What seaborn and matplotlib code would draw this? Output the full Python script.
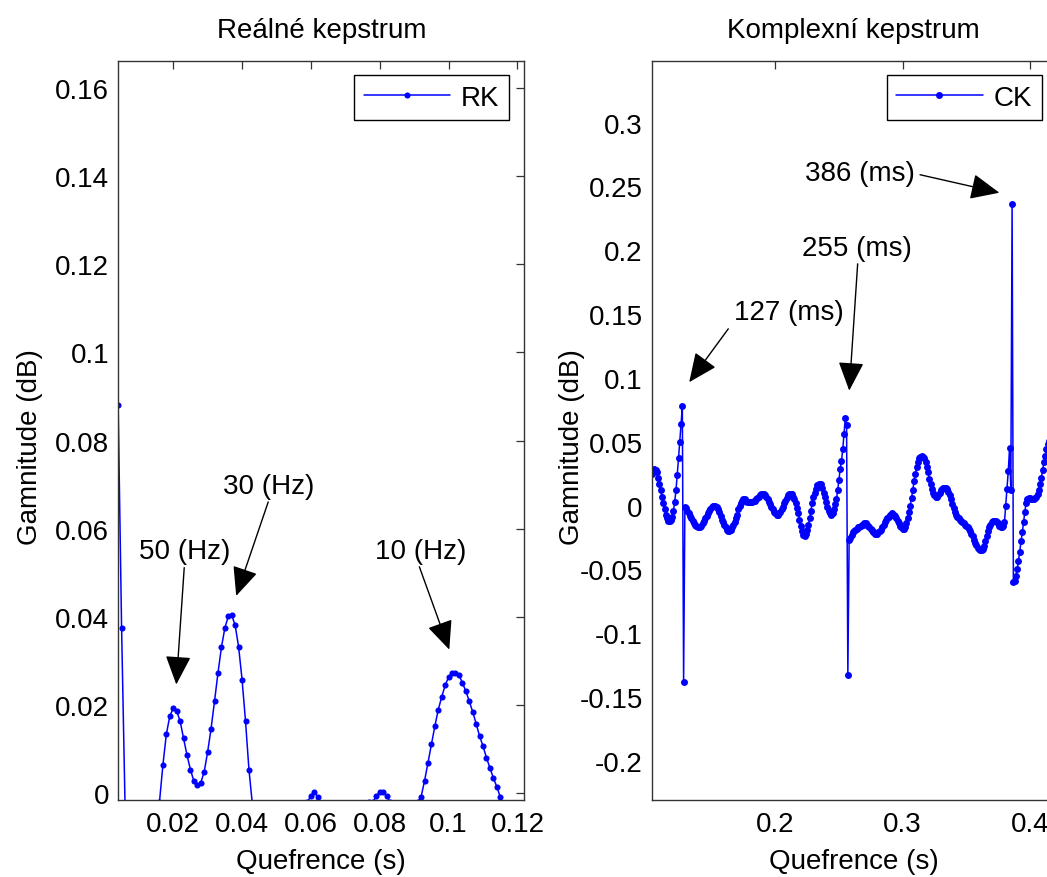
import numpy as np
import pandas as pd
import matplotlib
matplotlib.use("Agg")
import matplotlib.pyplot as plt
from matplotlib.ticker import FuncFormatter
import seaborn as sns

# ---------------- data ----------------
# Real cepstrum (RK): one sample per millisecond starting at 4 ms
rk_start_ms = 4
rk_values = [
    0.088, 0.0376, -0.0025, -0.012, -0.019, -0.023, -0.024, -0.022, -0.019, -0.014,
    -0.009, -0.005, -0.002, 0.0064, 0.0134, 0.0175, 0.0193, 0.0187, 0.0164, 0.0125,
    0.0087, 0.0054, 0.0028, 0.0018, 0.0024, 0.0049, 0.0094, 0.0147, 0.0209, 0.0273,
    0.0331, 0.0375, 0.0402, 0.0404, 0.0381, 0.0332, 0.0258, 0.0164, 0.0054, -0.0025,
    -0.008, -0.012, -0.015, -0.016, -0.016, -0.014, -0.012, -0.009, -0.007, -0.005,
    -0.004, -0.003, -0.003, -0.003, -0.003, -0.002, -0.0005, 0.0004, -0.0008, -0.003,
    -0.005, -0.007, -0.008, -0.009, -0.009, -0.009, -0.008, -0.007, -0.006, -0.005,
    -0.004, -0.003, -0.003, -0.002, -0.002, -0.0006, 0.0004, 0.0004, -0.0006, -0.002,
    -0.003, -0.004, -0.005, -0.005, -0.005, -0.004, -0.003, -0.002, -0.0008, 0.0028,
    0.0069, 0.0111, 0.0152, 0.0190, 0.0219, 0.0245, 0.0264, 0.0272, 0.0273, 0.0268,
    0.0251, 0.0232, 0.0209, 0.0185, 0.0158, 0.0130, 0.0107, 0.0081, 0.0058, 0.0035,
    0.0015, -0.0008, -0.003, -0.005, -0.007, -0.008, -0.009, -0.009, -0.009, -0.008,
    -0.007, -0.006,
]

# Complex cepstrum (CK): one sample per millisecond starting at 103 ms
ck_start_ms = 103
ck_values = [
    0.025, 0.028, 0.029, 0.028, 0.026, 0.022, 0.017, 0.012, 0.007, 0.002,
    -0.003, -0.007, -0.010, -0.012, -0.012, -0.011, -0.009, -0.004, 0.003, 0.012,
    0.024, 0.037, 0.050, 0.064, 0.078, -0.138, -0.001, -0.002, -0.004, -0.006,
    -0.008, -0.010, -0.012, -0.014, -0.015, -0.016, -0.017, -0.017, -0.017, -0.016,
    -0.014, -0.012, -0.010, -0.008, -0.006, -0.004, -0.003, -0.001, 0.000, 0.000,
    0.000, -0.001, -0.003, -0.005, -0.008, -0.011, -0.013, -0.015, -0.017, -0.019,
    -0.020, -0.020, -0.019, -0.017, -0.015, -0.013, -0.010, -0.007, -0.003, 0.000,
    0.002, 0.004, 0.005, 0.005, 0.004, 0.003, 0.003, 0.003, 0.003, 0.003,
    0.004, 0.004, 0.005, 0.006, 0.007, 0.008, 0.009, 0.009, 0.009, 0.008,
    0.007, 0.005, 0.003, 0.001, -0.001, -0.003, -0.005, -0.006, -0.007, -0.007,
    -0.006, -0.005, -0.003, -0.001, 0.002, 0.004, 0.006, 0.008, 0.009, 0.009,
    0.009, 0.007, 0.005, 0.002, -0.002, -0.006, -0.011, -0.016, -0.020, -0.023,
    -0.024, -0.022, -0.019, -0.015, -0.010, -0.004, 0.002, 0.007, 0.010, 0.013,
    0.016, 0.017, 0.017, 0.017, 0.014, 0.010, 0.007, 0.003, -0.001, -0.004,
    -0.006, -0.007, -0.006, -0.003, 0.001, 0.005, 0.012, 0.020, 0.029, 0.035,
    0.044, 0.056, 0.069, 0.063, -0.133, -0.027, -0.025, -0.023, -0.021, -0.020,
    -0.019, -0.018, -0.017, -0.017, -0.016, -0.015, -0.015, -0.014, -0.014, -0.015,
    -0.016, -0.017, -0.018, -0.019, -0.021, -0.022, -0.022, -0.022, -0.021, -0.020,
    -0.019, -0.017, -0.015, -0.013, -0.011, -0.010, -0.009, -0.007, -0.007, -0.006,
    -0.007, -0.008, -0.010, -0.012, -0.014, -0.016, -0.017, -0.018, -0.018, -0.017,
    -0.014, -0.010, -0.005, 0.000, 0.006, 0.012, 0.019, 0.025, 0.030, 0.034,
    0.037, 0.038, 0.039, 0.038, 0.037, 0.034, 0.030, 0.026, 0.021, 0.017,
    0.013, 0.010, 0.008, 0.007, 0.007, 0.008, 0.010, 0.012, 0.013, 0.014,
    0.014, 0.014, 0.013, 0.011, 0.008, 0.005, 0.001, -0.002, -0.005, -0.007,
    -0.009, -0.010, -0.011, -0.012, -0.013, -0.014, -0.015, -0.016, -0.017, -0.018,
    -0.020, -0.022, -0.024, -0.027, -0.029, -0.031, -0.033, -0.034, -0.035, -0.035,
    -0.034, -0.032, -0.028, -0.024, -0.020, -0.017, -0.015, -0.013, -0.012, -0.012,
    -0.012, -0.013, -0.014, -0.016, -0.017, -0.017, -0.016, -0.013, 0.000, 0.013,
    0.027, 0.045, 0.012, 0.236, -0.060, -0.059, -0.055, -0.050, -0.043, -0.036,
    -0.028, -0.021, -0.013, -0.005, 0.002, 0.005, 0.006, 0.006, 0.005, 0.005,
    0.005, 0.006, 0.007, 0.009, 0.012, 0.017, 0.022, 0.028, 0.034, 0.039,
    0.044, 0.048, 0.051,
]

rk_xticks = [0.02, 0.04, 0.06, 0.08, 0.10, 0.12]
rk_yticks = [0, 0.02, 0.04, 0.06, 0.08, 0.10, 0.12, 0.14, 0.16]
ck_xticks = [0.2, 0.3, 0.4]
ck_yticks = [-0.2, -0.15, -0.1, -0.05, 0, 0.05, 0.1, 0.15, 0.2, 0.25, 0.3]

# annotations: label, text position, arrow tail, arrow head (data units)
rk_notes = [
    ("50 (Hz)", (0.0232, 0.0549), (0.0232, 0.0512), (0.0209, 0.0247)),
    ("30 (Hz)", (0.0477, 0.0698), (0.0476, 0.0661), (0.0383, 0.0448)),
    ("10 (Hz)", (0.0918, 0.0550), (0.0915, 0.0514), (0.1002, 0.0326)),
]
ck_notes = [
    ("127 (ms)", (0.2104, 0.1518), (0.1631, 0.1385), (0.1324, 0.0967)),
    ("255 (ms)", (0.2638, 0.2020), (0.2647, 0.1894), (0.2581, 0.0901)),
    ("386 (ms)", (0.2665, 0.2607), (0.3137, 0.2592), (0.3760, 0.2451)),
]

rk_df = pd.DataFrame({
    "Quefrence": (rk_start_ms + np.arange(len(rk_values))) / 1000.0,
    "Gamnitude": rk_values,
})
ck_df = pd.DataFrame({
    "Quefrence": (ck_start_ms + np.arange(len(ck_values))) / 1000.0,
    "Gamnitude": ck_values,
})

# ---------------- style ----------------
sns.set_theme(style="white")
plt.rcParams["font.family"] = ["Liberation Sans", "DejaVu Sans"]
plt.rcParams["text.color"] = "black"
plt.rcParams["axes.labelcolor"] = "black"
plt.rcParams["xtick.color"] = "black"
plt.rcParams["ytick.color"] = "black"
FS = 20
BLUE = "#0000ff"


def fmt(v, pos):
    if abs(v) < 1e-12:
        return "0"
    return f"{round(v, 4):g}"


fig = plt.figure(figsize=(10.47, 8.78), dpi=100)
ax1 = fig.add_axes([0.1130, 0.0877, 0.3878, 0.8417])
ax2 = fig.add_axes([0.6224, 0.0877, 0.3878, 0.8417])

panels = [
    (ax1, rk_df, "RK", "Reálné kepstrum", (0.00405, 0.1220), (-0.0015, 0.1661),
     rk_xticks, rk_yticks, rk_notes, (0.963, 0.981), -0.2175, 0.5, 0.5, 4.4),
    (ax2, ck_df, "CK", "Komplexní kepstrum", (0.1029, 0.4218), (-0.2306, 0.3483),
     ck_xticks, ck_yticks, ck_notes, (0.961, 0.981), -0.1963, 0.497, 0.496, 5.0),
]

for (ax, df, lab, title, xl, yl, xt, yt, notes, legpos, ylab_x, xlab_x, title_x, ms) in panels:
    sns.lineplot(data=df, x="Quefrence", y="Gamnitude", ax=ax, color=BLUE,
                 marker="o", markersize=ms, markeredgewidth=0, linewidth=1.1,
                 label=lab, estimator=None, sort=False)
    ax.set_xlim(*xl)
    ax.set_ylim(*yl)
    ax.set_xticks(xt)
    ax.set_yticks(yt)
    ax.xaxis.set_major_formatter(FuncFormatter(fmt))
    ax.yaxis.set_major_formatter(FuncFormatter(fmt))
    ax.tick_params(which="both", direction="in", top=True, right=True,
                   length=6, width=0.9, color="#333333", labelsize=FS,
                   labelcolor="black")
    ax.tick_params(axis="y", pad=6.5)
    ax.tick_params(axis="x", pad=8)
    for s in ax.spines.values():
        s.set_color("#333333")
        s.set_linewidth(1.0)
        s.set_visible(True)

    ax.set_xlabel("Quefrence (s)", fontsize=FS, va="center", color="black")
    ax.xaxis.set_label_coords(xlab_x, -0.083)
    ax.set_ylabel("Gamnitude (dB)", fontsize=FS, va="center", color="black")
    ax.yaxis.set_label_coords(ylab_x, 0.479)
    ax.set_title(title, fontsize=FS, x=title_x, y=1.032, pad=0, va="baseline",
                 color="black")

    for txt, tpos, tail, head in notes:
        ax.text(tpos[0], tpos[1], txt, fontsize=FS, ha="center", va="center",
                color="black")
        ax.annotate("", xy=head, xytext=tail,
                    arrowprops=dict(arrowstyle="-|>,head_length=0.9,head_width=0.4",
                                    color="black", lw=1.0, shrinkA=0, shrinkB=0,
                                    mutation_scale=20))

    leg = ax.legend(loc="upper right", bbox_to_anchor=legpos, borderaxespad=0,
                    fancybox=False, edgecolor="black", framealpha=1, fontsize=FS,
                    handlelength=3.1, borderpad=0.35, handletextpad=0.4,
                    numpoints=1)
    leg.get_frame().set_linewidth(1.0)
    for t in leg.get_texts():
        t.set_color("black")

fig.savefig("out.png", dpi=100, facecolor="white")
